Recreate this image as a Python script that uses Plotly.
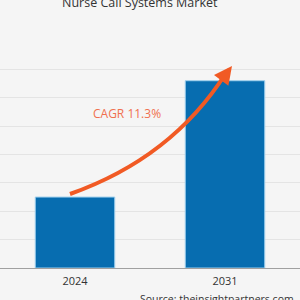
import plotly.graph_objects as go

years = ["2024", "2031"]
values = [2.5, 6.6]
title_text = "Nurse Call Systems Market"
cagr_text = "CAGR 11.3%"
source_text = "Source: theinsightpartners.com"

fig = go.Figure()
fig.add_trace(go.Bar(
    x=years, y=values, width=0.53,
    marker=dict(color="#076db0", line=dict(color="#9fd0ee", width=1)),
))

H = 227.0
def py(p):
    return (268 - p) / H
def px(p):
    return p / 300.0

# curved arrow
x0, y0 = px(70), py(194)
cx, cy = px(172), py(158)
x1, y1 = px(226), py(73)
fig.add_shape(type="path", xref="paper", yref="paper",
              path=f"M {x0},{y0} Q {cx},{cy} {x1},{y1}",
              line=dict(color="#f15a24", width=4))
fig.add_annotation(xref="paper", yref="paper", x=px(232), y=py(66),
                   ax=-9, ay=12, axref="pixel", ayref="pixel",
                   showarrow=True, arrowhead=2, arrowsize=0.9, arrowwidth=4,
                   arrowcolor="#f15a24", text="")

fig.add_annotation(xref="paper", yref="paper", x=px(127), y=py(114),
                   text=cagr_text, showarrow=False, yanchor="middle",
                   font=dict(family="Open Sans", size=12, color="#f0704f"))
fig.add_annotation(xref="paper", yref="paper", x=px(140), y=py(2),
                   text=title_text, showarrow=False, yanchor="middle",
                   font=dict(family="Open Sans", size=12.5, color="#333333"))
fig.add_annotation(xref="paper", yref="paper", x=px(138), y=py(299),
                   xanchor="left", yanchor="middle", text=source_text,
                   showarrow=False,
                   font=dict(family="Open Sans", size=10.5, color="#333333"))

fig.update_layout(
    width=300, height=300,
    margin=dict(l=0, r=0, t=41, b=32),
    paper_bgcolor="#f5f5f5", plot_bgcolor="#f5f5f5",
    showlegend=False,
    bargap=0.47,
    xaxis=dict(range=[-0.5, 1.5], showgrid=False, showline=True,
               linecolor="#a0a0a0", linewidth=1, ticks="",
               ticklabelstandoff=3,
               tickfont=dict(family="Open Sans", size=11, color="#333333")),
    yaxis=dict(range=[0, 8], dtick=1, showticklabels=False,
               gridcolor="#e4e4e4", gridwidth=1, zeroline=False),
)
fig.write_html("out.html")
